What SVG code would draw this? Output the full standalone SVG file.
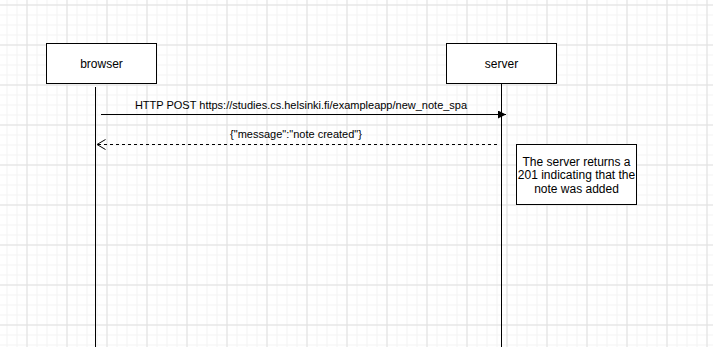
<svg xmlns="http://www.w3.org/2000/svg" width="713" height="347" viewBox="0 0 713 347">
  <style>
    .box { fill: #ffffff; stroke: #000000; stroke-width: 1; }
    .life { stroke: #000000; stroke-width: 1; fill: none; }
    .msg { stroke: #000000; stroke-width: 1; fill: none; }
    .dash { stroke-dasharray: 3 3; }
    text { font-family: "Liberation Sans", Arial, sans-serif; fill: #000000; }
    .lbl { font-size: 12px; text-anchor: middle; }
    .small { font-size: 11px; text-anchor: middle; }
  </style>
  <defs>
    <pattern id="minor" width="10" height="10" patternUnits="userSpaceOnUse" x="6.5" y="4.5">
      <path d="M0 0.5 H10 M0.5 0 V10" stroke="#f3f3f3" stroke-width="1" fill="none"/>
    </pattern>
    <pattern id="major" width="40" height="40" patternUnits="userSpaceOnUse" x="26.5" y="4.5">
      <path d="M0 0.5 H40 M0.5 0 V40" stroke="#e0e0e0" stroke-width="1" fill="none"/>
    </pattern>
    <marker id="solidHead" markerWidth="10" markerHeight="10" refX="8" refY="4" orient="auto" markerUnits="userSpaceOnUse">
      <path d="M0 0 L8 4 L0 8 Z" fill="#000000"/>
    </marker>
    <marker id="openHead" markerWidth="12" markerHeight="12" refX="9" refY="5.5" orient="auto" markerUnits="userSpaceOnUse">
      <path d="M0.5 0.5 L9 5.5 L0.5 10.5" fill="none" stroke="#000000" stroke-width="1"/>
    </marker>
  </defs>

  <!-- canvas grid -->
  <rect width="713" height="347" fill="#ffffff"/>
  <rect width="713" height="347" fill="url(#minor)"/>
  <rect width="713" height="347" fill="url(#major)"/>

  <!-- lifelines and messages -->
  <g id="connectors">
    <line class="life" x1="95.5" y1="87" x2="95.5" y2="347"/>
    <line class="life" x1="501.5" y1="83.5" x2="501.5" y2="347"/>
    <line class="msg" x1="101" y1="114.5" x2="506" y2="114.5" marker-end="url(#solidHead)"/>
    <text class="small" x="301" y="108.5">HTTP POST https://studies.cs.helsinki.fi/exampleapp/new_note_spa</text>
    <line class="msg dash" x1="497" y1="144.5" x2="97" y2="144.5" marker-end="url(#openHead)"/>
    <text class="small" x="296" y="138">{"message":"note created"}</text>
  </g>

  <g id="browser">
    <rect class="box" x="46.5" y="43.5" width="110" height="40"/>
    <text class="lbl" x="101.5" y="68">browser</text>
  </g>

  <g id="server">
    <rect class="box" x="446.5" y="43.5" width="110" height="40"/>
    <text class="lbl" x="501.5" y="68">server</text>
  </g>

  <g id="note">
    <rect class="box" x="516.5" y="144.5" width="120" height="60"/>
    <text class="lbl" x="576.5" y="165.5">The server returns a</text>
    <text class="lbl" x="576.5" y="179">201 indicating that the</text>
    <text class="lbl" x="576.5" y="192.5">note was added</text>
  </g>
</svg>
